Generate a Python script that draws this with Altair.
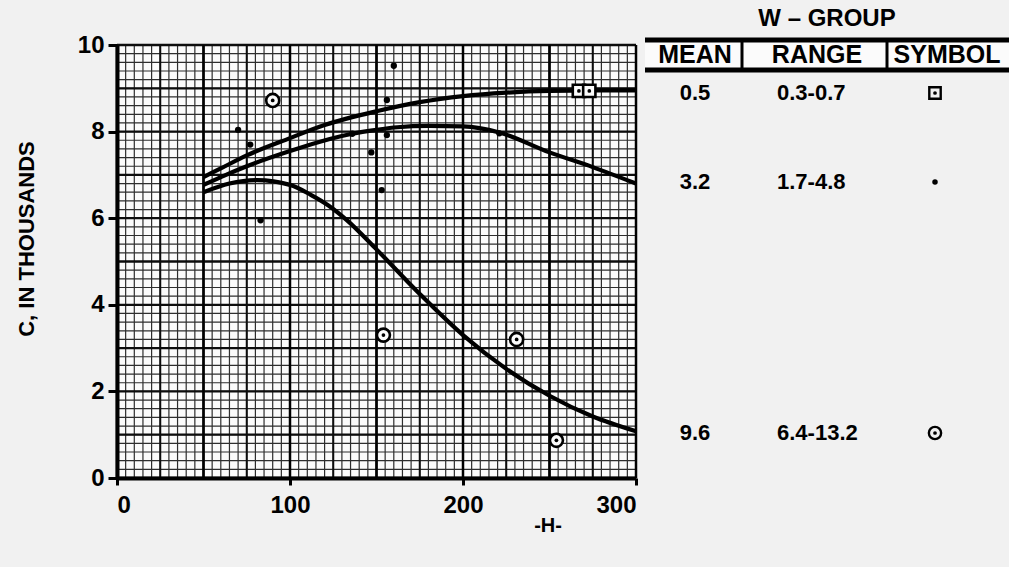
import altair as alt
import numpy as np
import pandas as pd

# ---- fitted curves, one per W-group (H vs C in thousands) ----
h_low = [50, 60, 75, 100, 120, 150, 175, 200, 225, 250, 275, 300]
c_low = [6.95, 7.15, 7.45, 7.85, 8.15, 8.47, 8.68, 8.82, 8.9, 8.94, 8.95, 8.95]

h_mid = [50, 60, 75, 100, 123, 136, 150, 162, 180, 200, 221, 250, 275, 300]
c_mid = [6.77, 6.95, 7.2, 7.55, 7.83, 7.95, 8.04, 8.1, 8.13, 8.12, 7.98, 7.52, 7.18, 6.8]

h_high = [50, 65, 81, 100, 112, 122, 133, 150, 175, 200, 225, 250, 275, 300]
c_high = [6.6, 6.8, 6.88, 6.77, 6.54, 6.3, 5.95, 5.28, 4.25, 3.3, 2.52, 1.9, 1.42, 1.08]

# ---- observations ----
h_sq = [267, 273]
c_sq = [8.94, 8.94]

h_dot = [70, 77, 83, 136, 147, 153, 156, 156, 160, 221]
c_dot = [8.04, 7.7, 5.95, 7.95, 7.52, 6.65, 7.92, 8.73, 9.52, 7.96]

h_circ = [90, 154, 231, 254]
c_circ = [8.72, 3.3, 3.2, 0.87]

# ---- table beside the curves ----
w_means = ["0.5", "3.2", "9.6"]
w_ranges = ["0.3-0.7", "1.7-4.8", "6.4-13.2"]
headers = ["MEAN", "RANGE", "SYMBOL"]

x_ticks = [0, 100, 200, 300]
y_ticks = [0, 2, 4, 6, 8, 10]

W, H = 519, 433
FONT = "Liberation Sans"
xs = alt.Scale(domain=[0, 300], nice=False, zero=False)
ys = alt.Scale(domain=[0, 10], nice=False, zero=False)

x_axis = alt.Axis(values=x_ticks, title=None, grid=False,
                  labelFontSize=24, labelFont=FONT, labelFontWeight="bold",
                  labelColor="black", labelPadding=8, tickSize=7, tickWidth=3,
                  tickColor="black", domainWidth=4, domainColor="black",
                  zindex=2)
y_axis = alt.Axis(values=y_ticks, title=None, grid=False,
                  labelFontSize=24, labelFont=FONT, labelFontWeight="bold",
                  labelColor="black", labelPadding=4, tickSize=9, tickWidth=3,
                  tickColor="black", domainWidth=4, domainColor="black",
                  zindex=2)

def xq(field):
    return alt.X(field, scale=xs, axis=x_axis)

def yq(field):
    return alt.Y(field, scale=ys, axis=y_axis)

one = pd.DataFrame({"k": [0]})

# graph-paper grid
def vgrid(step, width, color):
    df = pd.DataFrame({"H": np.arange(0, 300.01, step)})
    return alt.Chart(df).mark_rule(strokeWidth=width, color=color).encode(
        x=xq("H:Q"))

def hgrid(step, width, color):
    df = pd.DataFrame({"C": np.round(np.arange(0, 10.001, step), 3)})
    return alt.Chart(df).mark_rule(strokeWidth=width, color=color).encode(
        y=yq("C:Q"))

paper = alt.Chart(one).mark_rect(color="#fbfbfb").encode(
    x=alt.value(0), x2=alt.value(W), y=alt.value(0), y2=alt.value(H))

grid = [
    vgrid(5, 1.2, "#2e2e2e"),
    hgrid(0.2, 1.2, "#2e2e2e"),
    vgrid(25, 2.0, "#0d0d0d"),
    hgrid(1, 2.3, "#0d0d0d"),
    vgrid(50, 2.5, "#000000"),
]

def curve(hv, cv):
    df = pd.DataFrame({"H": hv, "C": cv})
    return alt.Chart(df).mark_line(color="black", strokeWidth=4.2,
                                   interpolate="monotone").encode(
        x=xq("H:Q"), y=yq("C:Q"))

curves = [curve(h_low, c_low), curve(h_mid, c_mid), curve(h_high, c_high)]

def pts(hv, cv):
    return pd.DataFrame({"H": hv, "C": cv})

def penc():
    return dict(x=xq("H:Q"), y=yq("C:Q"))

squares = alt.Chart(pts(h_sq, c_sq)).mark_point(
    shape="square", filled=True, fill="#fbfbfb", stroke="black",
    strokeWidth=2.6, size=150, opacity=1).encode(**penc())
square_dots = alt.Chart(pts(h_sq, c_sq)).mark_circle(
    color="black", size=14, opacity=1).encode(**penc())
dots = alt.Chart(pts(h_dot, c_dot)).mark_circle(
    color="black", size=40, opacity=1).encode(**penc())
circles = alt.Chart(pts(h_circ, c_circ)).mark_point(
    shape="circle", filled=True, fill="#fbfbfb", stroke="black",
    strokeWidth=2.6, size=170, opacity=1).encode(**penc())
circle_dots = alt.Chart(pts(h_circ, c_circ)).mark_circle(
    color="black", size=14, opacity=1).encode(**penc())

# ---- text and table drawn around the plot ----
def label(text, x, y, size, angle=0, align="center"):
    return alt.Chart(one).mark_text(
        text=text, font=FONT, fontSize=size, fontWeight="bold",
        color="black", align=align, baseline="middle", angle=angle).encode(
        x=alt.value(x), y=alt.value(y))

def hline(x1, x2, y, w):
    return alt.Chart(one).mark_rule(color="black", strokeWidth=w).encode(
        x=alt.value(x1), x2=alt.value(x2), y=alt.value(y))

def vline(x, y1, y2, w):
    return alt.Chart(one).mark_rule(color="black", strokeWidth=w).encode(
        x=alt.value(x), y=alt.value(y1), y2=alt.value(y2))

titles = [
    label("C, IN THOUSANDS", -90, 194, 22, angle=270),
    label("-H-", 431, 481, 20),
]

col_x = [578, 700, 830]
row_y = [48, 137, 388]
band = alt.Chart(one).mark_rect(color="#fbfbfb").encode(
    x=alt.value(528), x2=alt.value(892), y=alt.value(-5), y2=alt.value(25))
table = [band,
         label("W \u2013 GROUP", 710, -26, 24),
         hline(528, 892, -5, 5), hline(528, 892, 25, 5),
         vline(625, -5, 25, 3), vline(770, -5, 25, 3)]
for name, cx in zip(headers, col_x):
    table.append(label(name, cx, 10, 25))
for i, (m, r) in enumerate(zip(w_means, w_ranges)):
    table.append(label(m, col_x[0], row_y[i], 22))
    table.append(label(r, 660, row_y[i], 22, align="left"))

sym_x = 818
table += [
    alt.Chart(one).mark_point(shape="square", filled=False, stroke="black",
                              strokeWidth=2.4, size=130, opacity=1).encode(
        x=alt.value(sym_x), y=alt.value(row_y[0])),
    alt.Chart(one).mark_circle(color="black", size=14, opacity=1).encode(
        x=alt.value(sym_x), y=alt.value(row_y[0])),
    alt.Chart(one).mark_circle(color="black", size=30, opacity=1).encode(
        x=alt.value(sym_x), y=alt.value(row_y[1])),
    alt.Chart(one).mark_point(shape="circle", filled=False, stroke="black",
                              strokeWidth=2.4, size=150, opacity=1).encode(
        x=alt.value(sym_x), y=alt.value(row_y[2])),
    alt.Chart(one).mark_circle(color="black", size=14, opacity=1).encode(
        x=alt.value(sym_x), y=alt.value(row_y[2])),
]

chart = alt.layer(
    paper, *grid, *curves, squares, square_dots, dots, circles, circle_dots,
    *titles, *table
).properties(
    width=W, height=H,
    autosize=alt.AutoSizeParams(type="none"),
    padding={"left": 117, "top": 45, "right": 373, "bottom": 89},
    background="#f1f1f1",
).configure_view(stroke=None)

chart.save("out.html", embed_options={"renderer": "svg", "actions": False})
